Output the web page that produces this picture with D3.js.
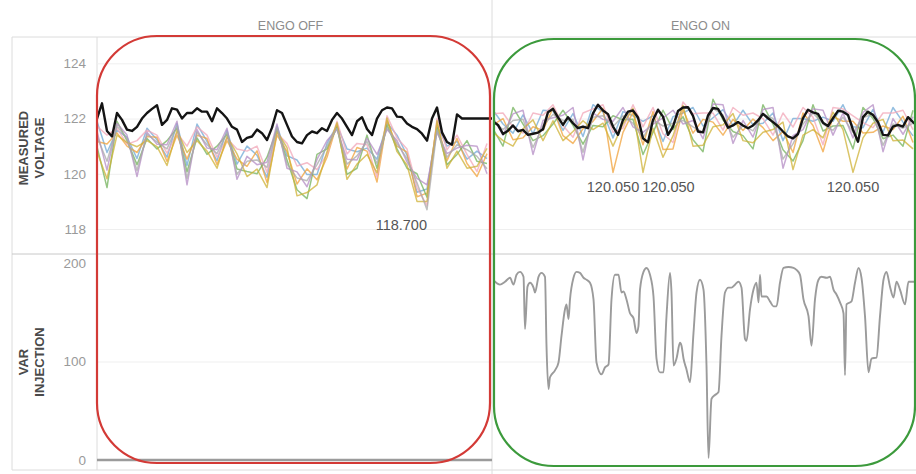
<!DOCTYPE html>
<html>
<head>
<meta charset="utf-8">
<script src="https://cdn.jsdelivr.net/npm/d3@7"></script>
<style>
    body { margin: 0; background: #fff; }
    svg { display: block; font-family: "Liberation Sans", Arial, sans-serif; }
</style>
</head>
<body>
<svg id="drawing_region"></svg>
<script>
// ---- data ----
const panels = ['ENGO OFF', 'ENGO ON'];
const voltageTicks = [118, 120, 122, 124];
const varTicks = [0, 100, 200];
const meterColors = ['#6fa8d6', '#f0a23a', '#72b25a', '#f2a7b8', '#b48cc4', '#cfb236', '#aaaaaa'];

// reference (black) line, one sample per step
const offReference = [
    122.0, 122.55, 121.55, 121.35, 122.2, 121.95, 121.6, 121.55, 121.7, 122.0,
    122.2, 122.35, 122.48, 121.77, 121.95, 122.37, 122.32, 122.0, 122.2, 122.2,
    122.37, 122.25, 122.25, 121.9, 122.37, 122.2, 122.0, 121.7, 121.6, 121.15,
    121.3, 121.35, 121.6, 121.47, 121.22, 121.67, 122.3, 122.2, 121.77, 121.35,
    121.15, 121.1, 121.4, 121.53, 121.47, 121.65, 121.55, 121.95, 122.2, 122.0,
    121.7, 121.4, 121.9, 122.05, 121.62, 121.4, 122.0, 122.3, 122.4, 122.37,
    122.07, 122.05, 121.82, 121.7, 121.62, 121.45, 121.2, 122.0, 122.4, 121.5,
    121.15, 121.05, 122.15, 122.0, 122.0, 122.0, 122.0, 122.0, 122.0, 122.0
];
const onReference = [
    121.89, 121.77, 121.44, 121.56, 121.75, 121.54, 121.59, 121.41, 121.45, 121.49,
    121.61, 122.23, 122.35, 122.04, 121.77, 122.05, 121.83, 121.65, 121.71, 121.65,
    122.19, 122.5, 122.29, 122.16, 121.71, 121.41, 121.95, 122.25, 122.29, 122.04,
    121.28, 121.14, 121.95, 122.32, 122.07, 121.41, 121.71, 122.27, 122.4, 122.41,
    122.1, 121.53, 121.5, 122.11, 122.38, 122.35, 122.04, 121.67, 121.75, 121.87,
    121.75, 121.65, 121.75, 121.93, 122.17, 122.01, 121.87, 121.72, 121.53, 121.35,
    121.28, 121.44, 122.01, 122.32, 122.22, 122.17, 121.85, 121.73, 122.01, 122.28,
    122.25, 122.13, 121.59, 121.16, 122.05, 122.25, 122.13, 121.87, 121.41, 121.39,
    121.71, 121.77, 121.71, 122.05, 121.87, 121.71
];

// meters, one sample every second step
const offMeter1 = [121.9,120.77,121.57,121.33,120.55,121.65,121.23,120.6,121.82,120.3,121.8,121.17,120.47,121.58,120.35,121.0,120.67,119.87,121.73,120.65,120.5,119.97,119.97,121.1,121.75,120.9,120.8,120.93,120.53,121.85,121.4,120.67,119.33,119.45,121.75,121.0,121.17,120.53,120.82,120.55];
const offMeter2 = [121.17,121.08,121.48,121.0,120.77,121.35,121.32,120.45,121.4,120.53,121.4,121.28,120.33,121.2,120.53,120.27,120.83,119.68,121.4,120.8,119.63,120.18,119.78,120.6,121.8,120.17,120.95,120.82,119.7,121.93,121.0,120.78,119.17,119.3,121.83,120.47,121.28,120.37,119.9,120.73];
const offMeter3 = [120.98,119.5,121.9,121.2,120.33,121.28,120.9,121.2,121.65,120.07,121.3,120.7,121.0,121.43,120.17,120.08,120.0,120.6,121.6,120.5,119.42,119.1,120.7,120.9,121.7,119.98,120.2,121.4,120.2,121.77,120.9,120.2,120.0,119.15,121.67,120.33,120.7,121.2,120.45,120.37];
const offMeter4 = [121.72,121.4,121.65,121.07,121.2,121.58,121.4,120.75,121.48,121.0,121.7,121.4,120.6,121.28,120.9,120.82,121.0,120.05,121.47,121.1,120.28,120.4,120.15,120.7,121.9,120.72,121.1,121.05,119.87,122.1,121.3,120.9,119.5,118.85,122.0,120.87,121.4,120.7,120.08,121.1];
const offMeter5 = [121.53,120.13,121.82,121.4,119.9,121.5,121.07,121.05,121.9,119.6,121.6,120.93,120.87,121.65,119.8,120.63,120.33,120.42,121.8,120.2,120.07,119.53,120.52,121.2,121.6,120.53,120.5,121.28,120.7,121.6,121.2,120.43,119.83,119.6,121.5,120.73,120.93,121.03,121.0,120.0];
const offMeter6 = [120.8,119.82,121.4,121.13,120.98,121.2,120.98,120.3,121.57,120.77,121.2,120.82,120.2,121.35,120.72,119.9,120.17,119.5,121.53,120.95,119.2,119.32,119.6,120.8,121.85,119.8,120.35,120.7,120.03,122.02,120.8,120.32,119.0,119.0,121.92,120.2,120.82,120.2,120.27,120.92];
const offMeter7 = [121.35,120.45,121.73,121.27,120.12,121.43,121.15,120.9,121.73,119.83,121.5,121.05,120.73,121.5,119.98,120.45,120.5,120.23,121.67,120.35,119.85,119.75,120.33,121.0,121.65,120.35,120.65,121.17,120.37,121.68,121.1,120.55,119.67,118.7,121.58,120.6,121.05,120.87,120.63,120.18];

const onMeter1 = [122.3,121.8,121.47,122.13,121.45,122.3,122.27,121.57,122.18,121.35,122.5,122.23,121.3,122.25,122.1,121.9,122.1,121.17,122.07,122.2,122.4,121.73,122.03,122.32,121.75,122.3,121.77,121.83,122.2,121.2,122.0,122.0,121.9,122.05,121.9,122.5,121.7,121.67,122.33,121.5,122.4,121.87,121.37];
const onMeter2 = [121.77,122.0,121.23,121.3,121.7,121.57,122.38,121.38,121.1,121.63,121.9,122.37,120.05,121.5,122.23,121.05,122.25,120.88,120.9,122.33,121.47,121.97,121.87,121.4,121.97,121.57,121.98,121.67,121.2,121.53,120.77,122.2,121.75,120.8,122.07,121.9,121.9,121.48,121.5,121.73,121.6,122.08,121.13];
const onMeter3 = [121.63,121.0,122.4,121.8,121.2,121.38,121.8,122.3,121.75,121.07,121.75,121.7,122.1,121.95,121.97,120.7,121.5,122.3,121.6,122.07,121.23,120.8,122.7,121.95,121.53,121.38,120.9,122.5,121.8,120.87,120.46,121.2,122.5,121.55,121.73,121.75,120.9,122.4,122.0,121.27,121.4,121.0,122.3];
const onMeter4 = [122.17,122.2,121.7,121.47,122.2,122.12,122.5,121.75,121.32,122.2,122.35,122.5,121.5,121.65,122.5,121.7,122.4,121.45,121.13,122.6,122.17,122.2,122.2,121.58,122.4,122.12,122.2,122.0,121.4,122.2,121.69,122.4,122.05,121.05,122.4,122.35,122.1,121.85,121.67,122.2,122.2,122.3,121.6];
const onMeter5 = [122.03,121.4,122.17,122.3,120.7,121.93,122.03,122.12,122.4,120.5,122.2,121.97,121.9,122.4,121.7,121.5,121.8,122.02,122.3,121.8,121.93,121.27,122.53,122.5,121.1,121.93,121.33,122.33,122.4,120.2,121.38,121.6,122.35,122.3,121.4,122.2,121.3,122.22,122.5,120.8,122.0,121.43,122.07];
const onMeter6 = [121.5,121.2,121.0,121.63,121.95,121.2,121.92,121.2,121.53,121.92,121.6,121.83,121.0,121.8,122.37,120.05,121.65,120.6,121.37,122.47,121.0,121.03,121.7,121.77,122.18,121.2,121.12,121.5,121.6,121.87,120.15,121.4,121.6,121.3,122.23,121.6,120.05,121.3,121.83,121.97,121.2,121.22,120.9];
const onMeter7 = [121.9,121.6,121.93,121.97,120.95,121.75,122.15,121.93,121.97,120.78,122.05,122.1,121.7,122.1,121.83,121.3,121.95,121.73,121.83,121.93,121.7,121.5,122.37,122.13,121.32,121.75,121.55,122.17,122.0,120.53,121.08,121.8,122.2,121.8,121.57,122.05,121.5,122.03,122.17,121.03,121.8,121.65,121.83];

// VAR injection (step units of the reference line)
const offVarTime = [0, 79];
const offVarValue = [0, 0];
const onVarTime = [0,1.4,2.4,3.4,4.1,4.7,5.4,6.1,6.4,6.9,7.4,8.1,8.4,9.1,9.7,10.4,10.7,11.1,11.4,12.4,13.1,13.7,14.4,14.7,15.1,15.4,16.1,16.7,17.4,18.1,18.7,19.4,20.1,20.7,21.7,22.4,23.1,23.7,24.4,25.1,25.7,26.1,26.7,27.4,28.1,28.7,29.1,29.4,30.1,30.7,31.4,32.1,32.7,33.4,34.1,34.7,35.4,35.7,36.1,36.7,37.4,37.7,38.1,38.7,39.4,40.1,40.7,41.4,42.1,42.7,43.1,43.7,44.4,45.1,45.7,46.4,47.1,47.7,48.4,49.1,49.7,50.4,50.7,51.4,52.1,52.7,53.1,53.4,53.7,54.7,55.4,56.1,56.7,57.4,58.1,59.1,60.1,60.7,61.4,62.1,63.1,63.7,64.4,65.1,65.7,66.7,67.4,68.1,68.7,69.4,70.1,70.4,70.7,71.7,72.4,73.1,73.7,74.4,75.1,75.7,76.7,77.4,78.1,78.7,79.4,80.1,80.7,81.4,82.4,83.1,84.4];
const onVarValue = [183,178,181,185,178,188,191,186,133,176,180,175,170,186,190,186,116,72,84,91,99,126,153,158,143,163,185,191,190,185,183,180,163,99,87,94,97,163,188,188,170,171,163,149,144,129,136,173,191,195,188,166,103,89,89,146,190,170,96,103,119,116,103,92,79,129,170,183,173,96,2,62,66,69,126,170,175,175,178,181,175,123,121,153,173,180,160,188,166,166,161,156,156,180,195,196,195,193,188,163,146,116,163,183,186,185,186,173,168,160,149,86,158,161,180,195,185,146,89,103,104,146,183,191,176,165,181,173,158,181,181];

// minimum labels
const labelPanel = ['ENGO OFF', 'ENGO ON', 'ENGO ON', 'ENGO ON'];
const labelStep = [66, 24, 30, 72];
const labelValue = [118.7, 120.05, 120.05, 120.05];


class EngoChart {

    constructor( config ) {
        this.config = config;
        this.init();
    }

    init() {
        let self = this;
        const c = self.config;

        self.svg = d3.select( c.parent )
            .attr('width', c.width)
            .attr('height', c.height);

        self.yvolt = d3.scaleLinear().domain([118, 124]).range([229, 63.3]);
        self.yvar = d3.scaleLinear().domain([0, 200]).range([460, 263]);

        self.xscales = {
            'ENGO OFF': d3.scaleLinear().domain([0, 79]).range([97, 492]),
            'ENGO ON': d3.scaleLinear().domain([0, 85]).range([493, 918])
        };
        self.bounds = {
            'ENGO OFF': [97, 492],
            'ENGO ON': [493, 916]
        };
    }

    render() {
        let self = this;
        const c = self.config;
        const svg = self.svg;

        // frame lines
        const frame = svg.append('g').attr('stroke', '#dcdcdc').attr('stroke-width', 1);
        frame.append('line').attr('x1', 12).attr('x2', c.width).attr('y1', c.top).attr('y2', c.top);
        frame.append('line').attr('x1', 12).attr('x2', c.width).attr('y1', c.bottom).attr('y2', c.bottom);
        frame.append('line').attr('x1', 12).attr('x2', 12).attr('y1', c.top).attr('y2', c.bottom);
        frame.append('line').attr('x1', c.axisX).attr('x2', c.axisX).attr('y1', c.top).attr('y2', c.bottom);
        frame.append('line').attr('x1', 492).attr('x2', 492).attr('y1', 0).attr('y2', c.height);
        frame.append('line').attr('x1', 12).attr('x2', c.width).attr('y1', c.split).attr('y2', c.split)
            .attr('stroke', '#c8c8c8');

        // grid lines
        const grid = svg.append('g');
        grid.append('g')
            .attr('transform', `translate(${c.axisX}, 0)`)
            .call(d3.axisLeft(self.yvolt).tickValues(voltageTicks).tickSize(-(c.width - c.axisX)).tickFormat(''));
        grid.append('g')
            .attr('transform', `translate(${c.axisX}, 0)`)
            .call(d3.axisLeft(self.yvar).tickValues([100]).tickSize(-(c.width - c.axisX)).tickFormat(''));
        grid.selectAll('.domain').remove();
        grid.selectAll('line').attr('stroke', '#efefef');

        // axes
        const axisStyle = g => {
            g.select('.domain').remove();
            g.selectAll('text').attr('fill', '#9a9a9a').attr('font-size', 13.5)
                .attr('font-family', '"Liberation Sans", Arial, sans-serif');
        };
        svg.append('g')
            .attr('transform', `translate(${c.axisX}, 0)`)
            .call(d3.axisLeft(self.yvolt).tickValues(voltageTicks).tickSize(0).tickPadding(11).tickFormat(d3.format('d')))
            .call(axisStyle);
        svg.append('g')
            .attr('transform', `translate(${c.axisX}, 0)`)
            .call(d3.axisLeft(self.yvar).tickValues(varTicks).tickSize(0).tickPadding(11).tickFormat(d3.format('d')))
            .call(axisStyle);

        // axis titles
        const titles = [
            { lines: ['MEASURED', 'VOLTAGE'], y: 148 },
            { lines: ['VAR', 'INJECTION'], y: 362 }
        ];
        titles.forEach(t => {
            const g = svg.append('g').attr('transform', `translate(0, ${t.y}) rotate(-90)`);
            t.lines.forEach((s, i) => {
                g.append('text').attr('x', 0).attr('y', 28 + i * 16)
                    .attr('text-anchor', 'middle')
                    .attr('font-size', 13).attr('font-weight', 'bold')
                    .attr('fill', '#4a4a4a')
                    .text(s);
            });
        });

        // panel headers
        panels.forEach(p => {
            const b = self.bounds[p];
            svg.append('text')
                .attr('x', (b[0] + b[1]) / 2 - 4)
                .attr('y', 30)
                .attr('text-anchor', 'middle')
                .attr('font-size', 12.5)
                .attr('fill', '#8c8c8c')
                .text(p);
        });

        const offMeters = [offMeter1, offMeter2, offMeter3, offMeter4, offMeter5, offMeter6, offMeter7];
        const onMeters = [onMeter1, onMeter2, onMeter3, onMeter4, onMeter5, onMeter6, onMeter7];
        const meters = { 'ENGO OFF': offMeters, 'ENGO ON': onMeters };
        const refs = { 'ENGO OFF': offReference, 'ENGO ON': onReference };
        const vars = {
            'ENGO OFF': offVarTime.map((t, i) => [t, offVarValue[i]]),
            'ENGO ON': onVarTime.map((t, i) => [t, onVarValue[i]])
        };

        panels.forEach((p, pi) => {
            const x = self.xscales[p];
            const b = self.bounds[p];

            svg.append('clipPath').attr('id', 'clipv' + pi)
                .append('rect').attr('x', b[0]).attr('y', c.top).attr('width', b[1] - b[0]).attr('height', c.split - c.top);
            svg.append('clipPath').attr('id', 'clipq' + pi)
                .append('rect').attr('x', b[0]).attr('y', c.split).attr('width', b[1] - b[0]).attr('height', c.bottom - c.split);

            const vline = d3.line().x(d => x(d[0])).y(d => self.yvolt(d[1]));
            const top = svg.append('g').attr('clip-path', `url(#clipv${pi})`);

            top.selectAll('.meter').data(meters[p]).enter()
                .append('path')
                .attr('fill', 'none')
                .attr('stroke', (d, i) => meterColors[i])
                .attr('stroke-width', 1.5)
                .attr('stroke-opacity', 0.75)
                .attr('stroke-linejoin', 'round')
                .attr('d', d => vline(d.map((v, i) => [i * 2, v])));

            top.append('path')
                .attr('fill', 'none')
                .attr('stroke', '#141414')
                .attr('stroke-width', 2.4)
                .attr('stroke-linejoin', 'round')
                .attr('d', vline(refs[p].map((v, i) => [i, v])));

            const qline = d3.line().curve(d3.curveMonotoneX).x(d => x(d[0])).y(d => self.yvar(d[1]));
            svg.append('g').attr('clip-path', `url(#clipq${pi})`)
                .append('path')
                .attr('fill', 'none')
                .attr('stroke', '#9b9b9b')
                .attr('stroke-width', pi === 0 ? 2.6 : 1.9)
                .attr('stroke-linejoin', 'round')
                .attr('d', qline(vars[p]));
        });

        // minimum labels, nudged right when they collide
        const labels = svg.append('g');
        let lastRight = -Infinity, lastPanel = null;
        labelPanel.forEach((p, i) => {
            const x = self.xscales[p];
            const px = x(labelStep[i]);
            const py = self.yvolt(labelValue[i]);
            const t = labels.append('text')
                .attr('font-size', 14.5)
                .attr('fill', '#555')
                .attr('y', py + 20)
                .text(d3.format('.3f')(labelValue[i]));
            const w = t.node().getComputedTextLength();
            let left = p === 'ENGO OFF' ? px - w : px - w / 2;
            if (p === lastPanel && left < lastRight + 3) left = lastRight + 3;
            t.attr('x', left);
            lastRight = left + w;
            lastPanel = p;
        });

        // highlight frames
        const hl = svg.append('g').attr('fill', 'none').attr('stroke-width', 2.2);
        hl.append('rect')
            .attr('x', 97).attr('y', 36).attr('width', 393).attr('height', 427)
            .attr('rx', 60).attr('ry', 60)
            .attr('stroke', '#d33a36');
        hl.append('rect')
            .attr('x', 494).attr('y', 39).attr('width', 421).attr('height', 427)
            .attr('rx', 60).attr('ry', 60)
            .attr('stroke', '#3c9a3c');
    }
}

const config = {
    parent: '#drawing_region',
    width: 916,
    height: 474,
    top: 37,
    split: 254,
    bottom: 470,
    axisX: 97
};

const chart = new EngoChart( config );
chart.render();
</script>
</body>
</html>
